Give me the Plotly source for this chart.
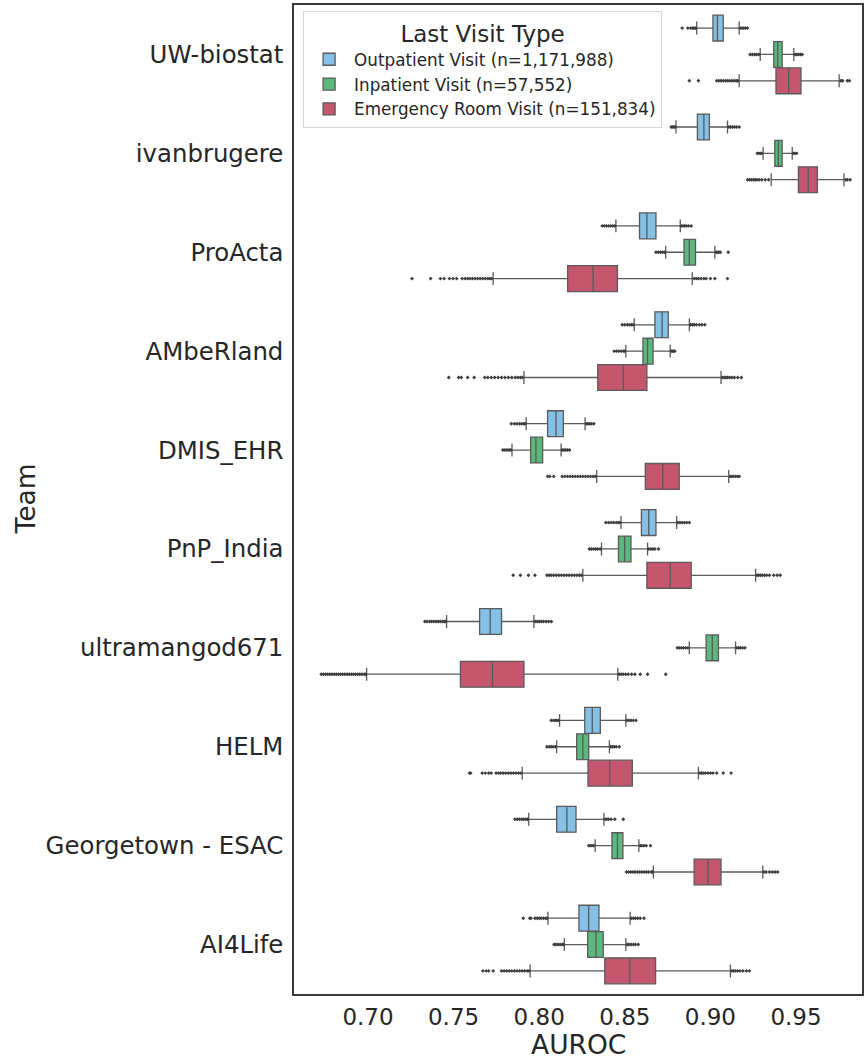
import plotly.graph_objects as go

teams = ["UW-biostat", "ivanbrugere", "ProActa", "AMbeRland", "DMIS_EHR", "PnP_India",
         "ultramangod671", "HELM", "Georgetown - ESAC", "AI4Life"]

visit_names = ["Outpatient Visit (n=1,171,988)", "Inpatient Visit (n=57,552)",
               "Emergency Room Visit (n=151,834)"]
visit_keys = ["outpatient", "inpatient", "er"]
visit_colors = ["#85c0e6", "#5cb87c", "#c4566e"]

# Outpatient visit stats
out_lo = [0.8920, 0.8799, 0.8448, 0.8555, 0.7924, 0.8478, 0.7459, 0.8119, 0.7939, 0.8051]
out_q1 = [0.9015, 0.8924, 0.8586, 0.8676, 0.8049, 0.8597, 0.7652, 0.8266, 0.8102, 0.8232]
out_med = [0.9041, 0.8962, 0.8629, 0.8718, 0.8098, 0.8640, 0.7714, 0.8310, 0.8162, 0.8289]
out_q3 = [0.9075, 0.8994, 0.8682, 0.8754, 0.8141, 0.8682, 0.7780, 0.8357, 0.8215, 0.8349]
out_hi = [0.9168, 0.9100, 0.8824, 0.8877, 0.8268, 0.8803, 0.7969, 0.8506, 0.8378, 0.8531]

# Inpatient visit stats
inp_lo = [0.9291, 0.9308, 0.8739, 0.8506, 0.7841, 0.8364, 0.8877, 0.8102, 0.8327, 0.8147]
inp_q1 = [0.9370, 0.9376, 0.8846, 0.8606, 0.7950, 0.8463, 0.8975, 0.8219, 0.8425, 0.8283]
inp_med = [0.9393, 0.9397, 0.8877, 0.8633, 0.7981, 0.8499, 0.9011, 0.8255, 0.8457, 0.8332]
inp_q3 = [0.9419, 0.9419, 0.8913, 0.8665, 0.8020, 0.8536, 0.9047, 0.8289, 0.8489, 0.8374]
inp_hi = [0.9487, 0.9478, 0.9026, 0.8765, 0.8128, 0.8633, 0.9147, 0.8410, 0.8582, 0.8506]

# Emergency room visit stats
er_lo = [0.9168, 0.9355, 0.7731, 0.7911, 0.8336, 0.8255, 0.6992, 0.7901, 0.8667, 0.7947]
er_q1 = [0.9383, 0.9514, 0.8166, 0.8342, 0.8620, 0.8629, 0.7540, 0.8285, 0.8905, 0.8383]
er_med = [0.9457, 0.9572, 0.8315, 0.8491, 0.8722, 0.8765, 0.7727, 0.8412, 0.8986, 0.8529]
er_q3 = [0.9529, 0.9625, 0.8457, 0.8629, 0.8818, 0.8888, 0.7911, 0.8544, 0.9062, 0.8680]
er_hi = [0.9752, 0.9780, 0.8894, 0.9062, 0.9107, 0.9264, 0.8459, 0.8930, 0.9306, 0.9117]

# Outliers
out_outliers = {
    "UW-biostat": [0.8835, 0.8868, 0.8885, 0.8895, 0.8903, 0.8910, 0.8915,
                   0.9175, 0.9185, 0.9195, 0.9205, 0.9217],
    "ivanbrugere": [0.8771, 0.8780, 0.8788, 0.8794, 0.9108, 0.9118, 0.9128, 0.9140, 0.9152, 0.9168],
    "ProActa": [0.8368, 0.8380, 0.8392, 0.8405, 0.8418, 0.8430, 0.8441,
                0.8830, 0.8840, 0.8850, 0.8860, 0.8872, 0.8888],
    "AMbeRland": [0.8485, 0.8500, 0.8515, 0.8528, 0.8540, 0.8550,
                  0.8884, 0.8895, 0.8905, 0.8918, 0.8935, 0.8950, 0.8967],
    "DMIS_EHR": [0.7837, 0.7855, 0.7870, 0.7885, 0.7898, 0.7910, 0.7918,
                 0.8275, 0.8285, 0.8295, 0.8305, 0.8319],
    "PnP_India": [0.8389, 0.8405, 0.8420, 0.8435, 0.8450, 0.8462, 0.8472,
                  0.8810, 0.8822, 0.8835, 0.8848, 0.8862, 0.8877],
    "ultramangod671": [0.7332, 0.7345, 0.7360, 0.7372, 0.7385, 0.7398, 0.7410, 0.7422, 0.7435, 0.7446,
                       0.7454, 0.7976, 0.7988, 0.8000, 0.8012, 0.8025, 0.8040, 0.8055, 0.8071],
    "HELM": [0.8070, 0.8082, 0.8093, 0.8103, 0.8112, 0.8513, 0.8525, 0.8537, 0.8550, 0.8565],
    "Georgetown - ESAC": [0.7858, 0.7872, 0.7885, 0.7898, 0.7910, 0.7922, 0.7932,
                          0.8385, 0.8395, 0.8405, 0.8420, 0.8442, 0.8491],
    "AI4Life": [0.7907, 0.7945, 0.7952, 0.7975, 0.7988, 0.8000, 0.8012, 0.8025, 0.8038, 0.8046,
                0.8538, 0.8550, 0.8562, 0.8575, 0.8590, 0.8612],
}
inp_outliers = {
    "UW-biostat": [0.9232, 0.9245, 0.9258, 0.9270, 0.9283, 0.9494, 0.9505, 0.9515, 0.9526, 0.9536],
    "ivanbrugere": [0.9274, 0.9283, 0.9292, 0.9300, 0.9485, 0.9494, 0.9504],
    "ProActa": [0.8682, 0.8695, 0.8708, 0.8720, 0.8732, 0.9033, 0.9042, 0.9050, 0.9058, 0.9104],
    "AMbeRland": [0.8438, 0.8452, 0.8466, 0.8480, 0.8493, 0.8500, 0.8772, 0.8780, 0.8786, 0.8792],
    "DMIS_EHR": [0.7788, 0.7800, 0.7812, 0.7824, 0.7834, 0.8135, 0.8145, 0.8155, 0.8166, 0.8177],
    "PnP_India": [0.8293, 0.8305, 0.8318, 0.8330, 0.8342, 0.8356, 0.8640, 0.8652, 0.8664, 0.8676, 0.8697],
    "ultramangod671": [0.8807, 0.8818, 0.8830, 0.8842, 0.8855, 0.8868, 0.9155, 0.9165, 0.9175, 0.9188, 0.9202],
    "HELM": [0.8045, 0.8058, 0.8070, 0.8082, 0.8094, 0.8418, 0.8428, 0.8438, 0.8450, 0.8468],
    "Georgetown - ESAC": [0.8289, 0.8298, 0.8308, 0.8318, 0.8590, 0.8600, 0.8612, 0.8625, 0.8650],
    "AI4Life": [0.8087, 0.8098, 0.8110, 0.8122, 0.8134, 0.8142,
                0.8514, 0.8525, 0.8537, 0.8550, 0.8562, 0.8578],
}
er_outliers = {
    "UW-biostat": [0.8877, 0.8930, 0.9037, 0.9050, 0.9062, 0.9075, 0.9088, 0.9100, 0.9112, 0.9125,
                   0.9138, 0.9150, 0.9160, 0.9762, 0.9772, 0.9800, 0.9812],
    "ivanbrugere": [0.9217, 0.9228, 0.9240, 0.9252, 0.9262, 0.9272, 0.9285, 0.9300, 0.9320, 0.9340,
                    0.9790, 0.9800, 0.9816],
    "ProActa": [0.7257, 0.7366, 0.7423, 0.7444, 0.7476, 0.7497, 0.7518, 0.7550, 0.7567, 0.7582,
                0.7595, 0.7610, 0.7625, 0.7640, 0.7655, 0.7670, 0.7685, 0.7700, 0.7712, 0.7722,
                0.8905, 0.8918, 0.8930, 0.8945, 0.8962, 0.8975, 0.9000, 0.9026, 0.9100],
    "AMbeRland": [0.7472, 0.7529, 0.7545, 0.7582, 0.7620, 0.7682, 0.7700, 0.7720, 0.7740, 0.7760,
                  0.7780, 0.7800, 0.7820, 0.7840, 0.7860, 0.7875, 0.7890, 0.7902,
                  0.9070, 0.9080, 0.9090, 0.9100, 0.9112, 0.9125, 0.9140, 0.9160, 0.9181],
    "DMIS_EHR": [0.8049, 0.8062, 0.8085, 0.8134, 0.8150, 0.8165, 0.8180, 0.8195, 0.8210, 0.8225,
                 0.8240, 0.8255, 0.8270, 0.8285, 0.8300, 0.8315, 0.8328,
                 0.9115, 0.9125, 0.9135, 0.9148, 0.9160, 0.9168],
    "PnP_India": [0.7848, 0.7890, 0.7937, 0.7975, 0.8045, 0.8058, 0.8070, 0.8085, 0.8100, 0.8115,
                  0.8130, 0.8145, 0.8160, 0.8175, 0.8190, 0.8205, 0.8220, 0.8235, 0.8247,
                  0.9272, 0.9282, 0.9292, 0.9302, 0.9315, 0.9328, 0.9345, 0.9370, 0.9390, 0.9408],
    "ultramangod671": [0.6727, 0.6740, 0.6752, 0.6765, 0.6778, 0.6790, 0.6803, 0.6815, 0.6828, 0.6840,
                       0.6852, 0.6865, 0.6878, 0.6890, 0.6903, 0.6915, 0.6928, 0.6940, 0.6952, 0.6965,
                       0.6978, 0.6986, 0.8466, 0.8478, 0.8490, 0.8505, 0.8520, 0.8540, 0.8559, 0.8590,
                       0.8633, 0.8739],
    "HELM": [0.7593, 0.7600, 0.7667, 0.7685, 0.7705, 0.7720, 0.7748, 0.7762, 0.7775, 0.7790,
             0.7805, 0.7820, 0.7835, 0.7850, 0.7865, 0.7880, 0.7893,
             0.8938, 0.8948, 0.8958, 0.8970, 0.8985, 0.9000, 0.9015, 0.9037, 0.9075, 0.9121],
    "Georgetown - ESAC": [0.8510, 0.8522, 0.8535, 0.8548, 0.8560, 0.8573, 0.8586, 0.8600, 0.8613,
                          0.8627, 0.8640, 0.8655, 0.8662, 0.9313, 0.9325, 0.9345, 0.9362, 0.9378, 0.9393],
    "AI4Life": [0.7671, 0.7690, 0.7705, 0.7731, 0.7780, 0.7795, 0.7810, 0.7825, 0.7840, 0.7855,
                0.7870, 0.7885, 0.7900, 0.7915, 0.7930, 0.7940,
                0.9125, 0.9135, 0.9145, 0.9158, 0.9172, 0.9190, 0.9210, 0.9228],
}

x_ticks = [0.70, 0.75, 0.80, 0.85, 0.90, 0.95]

stats = [
    (out_lo, out_q1, out_med, out_q3, out_hi, out_outliers),
    (inp_lo, inp_q1, inp_med, inp_q3, inp_hi, inp_outliers),
    (er_lo, er_q1, er_med, er_q3, er_hi, er_outliers),
]

FONT = "DejaVu Sans"
TXT = "#262626"
EDGE = "#5a5a5a"

fig = go.Figure()
for name, key, color, (lo, q1, med, q3, hi, outl) in zip(visit_names, visit_keys, visit_colors, stats):
    fig.add_trace(go.Box(
        name=name, y=teams, q1=q1, median=med, q3=q3,
        lowerfence=lo, upperfence=hi, orientation="h",
        fillcolor=color, line=dict(color=EDGE, width=1.3),
        whiskerwidth=0.5, offsetgroup=key, boxpoints=False,
    ))
for name, key, (lo, q1, med, q3, hi, outl) in zip(visit_names, visit_keys, stats):
    xs, ys = [], []
    for t in teams:
        for v in outl[t]:
            xs.append(v)
            ys.append(t)
    fig.add_trace(go.Scatter(
        x=xs, y=ys, mode="markers", orientation="h", offsetgroup=key,
        marker=dict(symbol="diamond", size=3, color="#3d3d3d", line=dict(width=0)),
        showlegend=False, hoverinfo="skip",
    ))

fig.update_layout(
    template="none",
    width=864, height=1059,
    margin=dict(l=294, r=2, t=5, b=65, pad=0),
    paper_bgcolor="white", plot_bgcolor="white",
    boxmode="group", boxgap=0.2, boxgroupgap=0.02,
    scattermode="group", scattergap=0.2,
    font=dict(family=FONT, color=TXT),
    legend=dict(
        x=0.016, y=0.994, xanchor="left", yanchor="top",
        bgcolor="white", bordercolor="#d6d6d6", borderwidth=1,
        font=dict(family=FONT, size=16.8, color=TXT),
        title=dict(text="Last Visit Type", side="top center",
                   font=dict(family=FONT, size=23, color=TXT)),
        itemwidth=40,
    ),
    annotations=[
        dict(text="AUROC", xref="paper", yref="paper", x=0.5, y=0,
             xanchor="center", yanchor="middle", yshift=-50, showarrow=False,
             borderpad=0, font=dict(family=FONT, size=26.5, color=TXT)),
        dict(text="Team", xref="paper", yref="paper", x=0, y=0.5, textangle=-90,
             xanchor="center", yanchor="middle", xshift=-269, showarrow=False,
             borderpad=0, font=dict(family=FONT, size=26.5, color=TXT)),
    ],
)
fig.update_xaxes(
    automargin=False,
    range=[0.65678, 0.98855], tickvals=x_ticks, ticktext=[f"{v:.2f}" for v in x_ticks],
    showgrid=False, zeroline=False, ticks="", ticklabelstandoff=2,
    showline=True, mirror=True, linecolor="#3a3a3a", linewidth=1.5,
    tickfont=dict(family=FONT, size=23, color=TXT),
)
fig.update_yaxes(
    automargin=False,
    categoryorder="array", categoryarray=teams, range=[9.5, -0.5],
    showgrid=False, zeroline=False, ticks="", ticklabelstandoff=4,
    showline=True, mirror=True, linecolor="#3a3a3a", linewidth=1.5,
    tickfont=dict(family=FONT, size=24.4, color=TXT),
)

fig.write_html("out.html", config={"displayModeBar": False},
               post_script="document.body.style.margin='0px';")
